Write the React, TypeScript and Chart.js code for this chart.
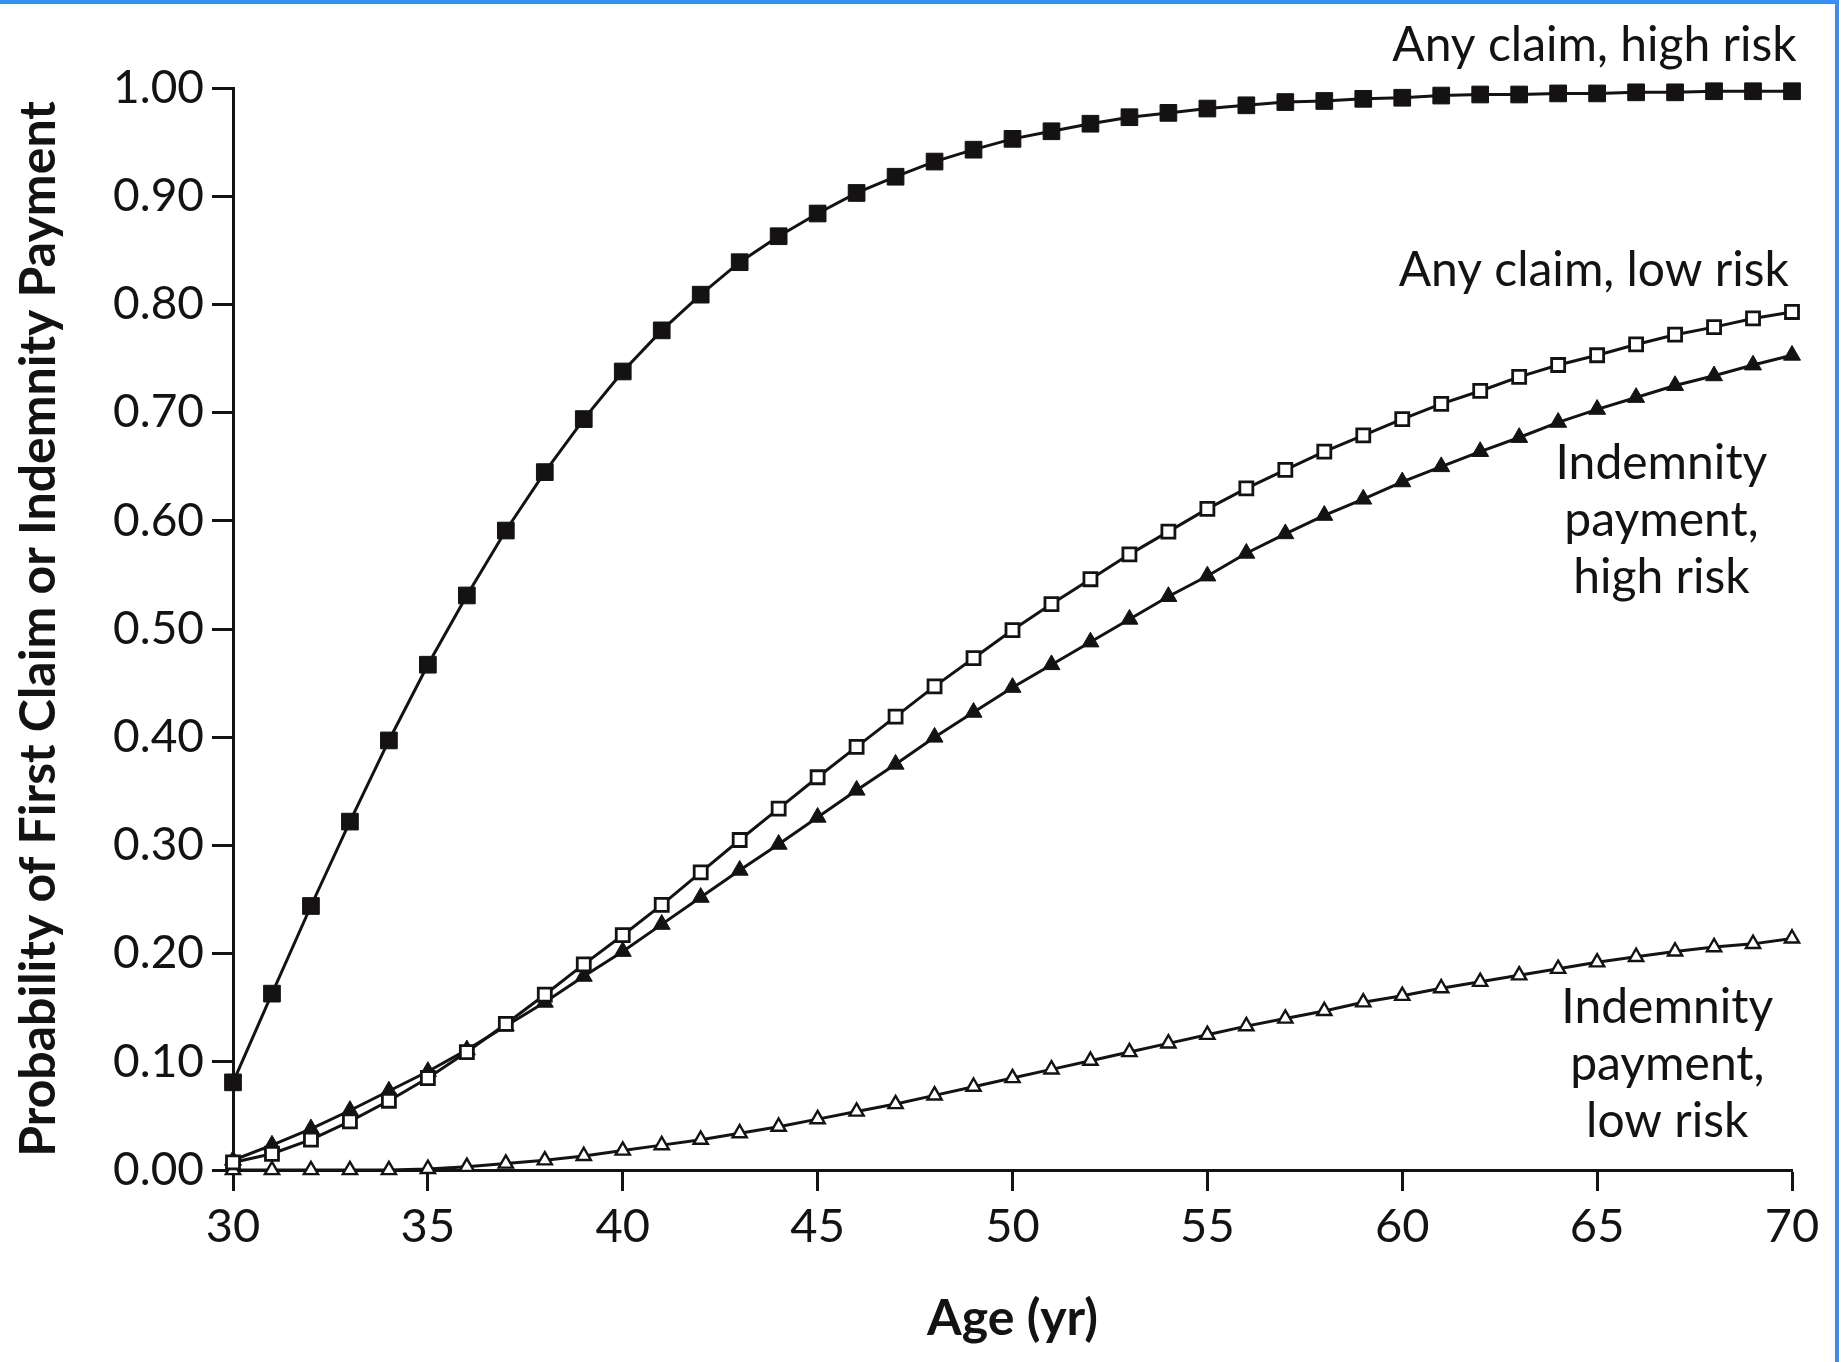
import React, { useEffect, useRef } from "react";
import { Chart, registerables } from "chart.js";

Chart.register(...registerables);

// ---------- data ----------
const ages = [
  30, 31, 32, 33, 34, 35, 36, 37, 38, 39, 40, 41, 42, 43, 44, 45, 46, 47, 48, 49, 50,
  51, 52, 53, 54, 55, 56, 57, 58, 59, 60, 61, 62, 63, 64, 65, 66, 67, 68, 69, 70,
];

const anyClaimHighRisk = [
  0.081, 0.163, 0.244, 0.322, 0.397, 0.467, 0.531, 0.591, 0.645, 0.694, 0.738,
  0.776, 0.809, 0.839, 0.863, 0.884, 0.903, 0.918, 0.932, 0.943, 0.953,
  0.960, 0.967, 0.973, 0.977, 0.981, 0.984, 0.987, 0.988, 0.990, 0.991,
  0.993, 0.994, 0.994, 0.995, 0.995, 0.996, 0.996, 0.997, 0.997, 0.997,
];

const anyClaimLowRisk = [
  0.007, 0.015, 0.028, 0.045, 0.064, 0.085, 0.109, 0.135, 0.162, 0.190, 0.217,
  0.245, 0.275, 0.305, 0.334, 0.363, 0.391, 0.419, 0.447, 0.473, 0.499,
  0.523, 0.546, 0.569, 0.590, 0.611, 0.630, 0.647, 0.664, 0.679, 0.694,
  0.708, 0.720, 0.733, 0.744, 0.753, 0.763, 0.772, 0.779, 0.787, 0.793,
];

const indemnityHighRisk = [
  0.009, 0.023, 0.038, 0.055, 0.073, 0.091, 0.111, 0.133, 0.155, 0.179, 0.202,
  0.227, 0.252, 0.277, 0.301, 0.326, 0.351, 0.375, 0.400, 0.423, 0.446,
  0.467, 0.488, 0.509, 0.530, 0.549, 0.570, 0.588, 0.605, 0.620, 0.636,
  0.650, 0.664, 0.677, 0.691, 0.703, 0.714, 0.725, 0.734, 0.744, 0.753,
];

const indemnityLowRisk = [
  0.000, 0.000, 0.000, 0.000, 0.000, 0.001, 0.003, 0.006, 0.009, 0.013, 0.018,
  0.023, 0.028, 0.034, 0.040, 0.047, 0.054, 0.061, 0.069, 0.077, 0.085,
  0.093, 0.101, 0.109, 0.117, 0.125, 0.133, 0.140, 0.147, 0.155, 0.161,
  0.168, 0.174, 0.180, 0.186, 0.192, 0.197, 0.202, 0.206, 0.209, 0.214,
];

const xTickValues = [30, 35, 40, 45, 50, 55, 60, 65, 70];
const yTickValues = [0, 0.1, 0.2, 0.3, 0.4, 0.5, 0.6, 0.7, 0.8, 0.9, 1.0];

const xTitle = "Age (yr)";
const yTitle = "Probability of First Claim or Indemnity Payment";

// curve labels, anchored in data space (age, probability of first baseline)
const curveLabels = [
  { lines: ["Any claim, high risk"], age: 70.12, prob: 1.025, align: "right" },
  { lines: ["Any claim, low risk"], age: 69.92, prob: 0.817, align: "right" },
  { lines: ["Indemnity", "payment,", "high risk"], age: 66.65, prob: 0.639, align: "center" },
  { lines: ["Indemnity", "payment,", "low risk"], age: 66.8, prob: 0.136, align: "center" },
];

// ---------- styles ----------
const FONT = "Lato, 'Open Sans', 'DejaVu Sans', sans-serif";
const INK = "#141213";
const BLUE = "#3a8ef2";

const curveLabelPlugin = {
  id: "curveLabels",
  afterDatasetsDraw(chart: any) {
    const { ctx } = chart;
    const xs = chart.scales.x;
    const ys = chart.scales.y;
    ctx.save();
    ctx.fillStyle = INK;
    ctx.font = `48px ${FONT}`;
    ctx.textBaseline = "alphabetic";
    for (const l of curveLabels) {
      ctx.textAlign = l.align;
      const px = xs.getPixelForValue(l.age);
      const py = ys.getPixelForValue(l.prob);
      l.lines.forEach((t, i) => ctx.fillText(t, px, py + i * 57));
    }
    ctx.restore();
  },
};

function series(
  label: string,
  values: number[],
  pointStyle: string,
  fill: string,
  radius: number,
  pointBorderWidth: number
) {
  return {
    label,
    data: ages.map((a, i) => ({ x: a, y: values[i] })),
    borderColor: INK,
    borderWidth: 3,
    pointStyle,
    pointRadius: radius,
    pointHoverRadius: radius,
    pointBackgroundColor: fill,
    pointBorderColor: INK,
    pointBorderWidth,
    tension: 0,
    clip: false as any,
  };
}

export default function App() {
  const canvasRef = useRef<HTMLCanvasElement | null>(null);

  useEffect(() => {
    const canvas = canvasRef.current;
    if (!canvas) return;
    const chart = new Chart(canvas, {
      type: "line",
      data: {
        datasets: [
          series("Any claim, high risk", anyClaimHighRisk, "rect", INK, 11.8, 1),
          series("Any claim, low risk", anyClaimLowRisk, "rect", "#ffffff", 9.2, 2.8),
          series("Indemnity payment, high risk", indemnityHighRisk, "triangle", INK, 9.8, 1),
          series("Indemnity payment, low risk", indemnityLowRisk, "triangle", "#ffffff", 8.2, 2.4),
        ] as any,
      },
      options: {
        responsive: false,
        animation: false,
        devicePixelRatio: 1,
        layout: { padding: { top: 88, right: 47, bottom: 0, left: 0 } },
        plugins: {
          legend: { display: false },
          tooltip: { enabled: false },
        },
        scales: {
          x: {
            type: "linear",
            min: 30,
            max: 70,
            afterBuildTicks: (s: any) => {
              s.ticks = xTickValues.map((v) => ({ value: v }));
            },
            afterFit: (s: any) => {
              s.height = 192;
            },
            grid: {
              display: true,
              drawOnChartArea: false,
              drawTicks: true,
              tickLength: 21,
              tickWidth: 3,
              tickColor: INK,
            },
            border: { display: true, width: 3, color: INK },
            ticks: {
              color: INK,
              font: { family: FONT, size: 47 },
              padding: 8,
              maxRotation: 0,
              autoSkip: false,
            },
            title: {
              display: true,
              text: xTitle,
              color: INK,
              font: { family: FONT, size: 50, weight: "bold" },
              padding: { top: 0, bottom: 13 },
            },
          },
          y: {
            type: "linear",
            min: 0,
            max: 1,
            afterBuildTicks: (s: any) => {
              s.ticks = yTickValues.map((v) => ({ value: v }));
            },
            afterFit: (s: any) => {
              s.width = 233;
            },
            grid: {
              display: true,
              drawOnChartArea: false,
              drawTicks: true,
              tickLength: 21,
              tickWidth: 3,
              tickColor: INK,
            },
            border: { display: true, width: 3, color: INK },
            ticks: {
              color: INK,
              font: { family: FONT, size: 46 },
              padding: 8,
              autoSkip: false,
              callback: (v: any) => Number(v).toFixed(2),
            },
            title: {
              display: true,
              text: yTitle,
              color: INK,
              font: { family: FONT, size: 50, weight: "bold" },
              padding: { top: 9, bottom: 0 },
            },
          },
        },
      } as any,
      plugins: [curveLabelPlugin as any],
    });
    return () => chart.destroy();
  }, []);

  return (
    <div
      style={{
        position: "absolute",
        left: 0,
        top: 0,
        width: 1839,
        height: 1362,
        background: "#ffffff",
        overflow: "hidden",
      }}
    >
      <canvas
        ref={canvasRef}
        width={1839}
        height={1362}
        style={{ display: "block", width: 1839, height: 1362 }}
      />
      <div style={{ position: "absolute", left: 0, top: 0, width: 1839, height: 4, background: BLUE }} />
      <div style={{ position: "absolute", right: 0, top: 0, width: 4, height: 1362, background: BLUE }} />
    </div>
  );
}
